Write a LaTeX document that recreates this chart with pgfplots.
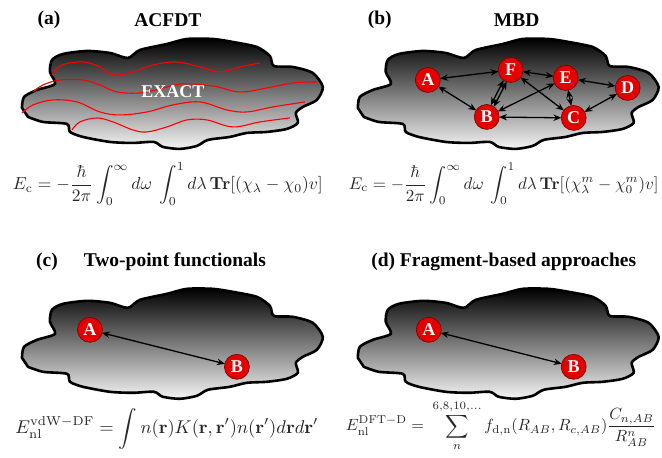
\documentclass[border=0pt]{standalone}
\usepackage[no-math]{fontspec}
\setmainfont{Liberation Serif}
\usepackage{graphicx}
\usepackage{pgfplots}
\pgfplotsset{compat=1.18}
\usepackage{pgfplotstable}
\usetikzlibrary{arrows.meta}

\pgfplotstableread{
x y
22 108
24 97
37 90
55 84
50 72
52 60
63 54
87 51
110 53
128 58
140 50
167 44
187 39
213 39
233 42
257 47
270 56
274 66
293 67
313 73
323 87
317 100
303 107
296 113
298 123
287 129
267 132
247 133
230 137
208 140
197 146
180 149
163 147
154 142
133 143
110 142
83 137
70 132
67 124
43 122
28 117
}\cloud

\pgfplotstableread{
x y lab
428 80 A
511 70 F
566 78 E
628 88 D
487 117 B
574 118 C
}\nodesB

\pgfplotstableread{
x y lab
90 330 A
237 367 B
429 330 A
574 367 B
}\nodesCD

\begin{document}
\begin{tikzpicture}
\begin{axis}[scale only axis, width=662pt, height=458pt,
  xmin=0, xmax=662, ymin=0, ymax=458, y dir=reverse,
  hide axis, clip=false,
  cloudsty/.style={draw=black, line width=2.6pt, top color=black, bottom color=white!96!black, smooth, tension=0.45},
  redl/.style={red, line width=1.1pt, smooth, tension=0.6},
  arr/.style={{Stealth[length=8pt,width=6.5pt]}-{Stealth[length=8pt,width=6.5pt]}, line width=1.3pt, black, shorten <=12.3pt, shorten >=12.3pt},
  circ/.style={only marks, mark=*, mark size=12.5pt, mark options={fill=red!90!black, draw=red!45!black, line width=0.6pt},
     nodes near coords, point meta=explicit symbolic,
     every node near coord/.style={anchor=center, text=white, font=\bfseries\fontsize{18}{18}\selectfont}},
]
\addplot[draw=none] coordinates {(0,0) (662,458)};

% clouds
\addplot[cloudsty] table[x expr=\thisrow{x}, y expr=\thisrow{y}] {\cloud} -- cycle;
\addplot[cloudsty] table[x expr=\thisrow{x}+336, y expr=\thisrow{y}] {\cloud} -- cycle;
\addplot[cloudsty] table[x expr=\thisrow{x}, y expr=\thisrow{y}+250] {\cloud} -- cycle;
\addplot[cloudsty] table[x expr=\thisrow{x}+336, y expr=\thisrow{y}+250] {\cloud} -- cycle;

% red lines (a)
\addplot[redl] coordinates {(52,75) (62,65) (83,62) (100,67) (113,75) (133,72) (153,65) (177,62) (200,67) (220,72) (240,67) (260,63)};
\addplot[redl] coordinates {(33,92) (43,85) (60,80) (83,80) (100,85) (117,92) (140,93) (160,89) (182,84) (213,86) (240,92) (267,88) (293,83) (317,82)};
\addplot[redl] coordinates {(22,113) (33,105) (53,100) (77,102) (100,112) (120,115) (147,112) (173,105) (200,102) (227,110) (247,112) (273,107) (305,102)};
\addplot[redl] coordinates {(72,130) (80,122) (97,118) (113,122) (133,130) (147,132) (167,127) (187,120) (207,120) (233,127) (260,122) (290,118)};

% arrows (b)
\addplot[arr] coordinates {(428,80) (511,70)};
\addplot[arr] coordinates {(428,80) (487,117)};
\addplot[arr] coordinates {(512.5,70.8) (488.5,117.8)};
\addplot[arr] coordinates {(509.5,69.2) (485.5,116.2)};
\addplot[arr] coordinates {(511,70) (566,78)};
\addplot[arr] coordinates {(566,78) (628,88)};
\addplot[arr] coordinates {(511,70) (574,118)};
\addplot[arr] coordinates {(566,78) (487,117)};
\addplot[arr] coordinates {(487,117) (574,118)};
\addplot[arr] coordinates {(566,78) (574,118)};
\addplot[arr] coordinates {(574,118) (628,88)};
% arrows (c),(d)
\addplot[arr] coordinates {(90,330) (237,367)};
\addplot[arr] coordinates {(429,330) (574,367)};

% circles
\addplot[circ] table[meta=lab] {\nodesB};
\addplot[circ] table[meta=lab] {\nodesCD};

% texts
\node[text=white, font=\bfseries\fontsize{18}{18}\selectfont] at (axis cs:173,92) {EXACT};
\node[font=\bfseries\fontsize{19.5}{20}\selectfont] at (axis cs:49,20) {(a)};
\node[font=\bfseries\fontsize{19.5}{20}\selectfont] at (axis cs:168,20) {ACFDT};
\node[font=\bfseries\fontsize{19.5}{20}\selectfont] at (axis cs:380,20) {(b)};
\node[font=\bfseries\fontsize{19.5}{20}\selectfont] at (axis cs:517,20) {MBD};
\node[font=\bfseries\fontsize{19.5}{20}\selectfont] at (axis cs:47,262) {(c)};
\node[font=\bfseries\fontsize{19.5}{20}\selectfont] at (axis cs:175,262) {Two-point functionals};
\node[font=\bfseries\fontsize{19.5}{20}\selectfont] at (axis cs:504,262) {(d) Fragment-based approaches};

\node[text=black!85] at (axis cs:168,184) {\resizebox{310pt}{!}{$\displaystyle E_{\mathrm{c}} = -\frac{\hbar}{2\pi}\int_0^\infty d\omega\ \int_0^1 d\lambda\,\mathbf{Tr}[(\chi_\lambda-\chi_0)v]$}};
\node[text=black!85] at (axis cs:504,184) {\resizebox{310pt}{!}{$\displaystyle E_{\mathrm{c}} = -\frac{\hbar}{2\pi}\int_0^\infty d\omega\ \int_0^1 d\lambda\,\mathbf{Tr}[(\chi^m_\lambda-\chi^m_0)v]$}};
\node[text=black!85] at (axis cs:167,429) {\resizebox{303pt}{!}{$\displaystyle E_{\mathrm{nl}}^{\mathrm{vdW-DF}} = \int n(\mathbf{r})K(\mathbf{r},\mathbf{r}')n(\mathbf{r}')d\mathbf{r}d\mathbf{r}'$}};
\node[text=black!85] at (axis cs:501,426) {\resizebox{310pt}{!}{$\displaystyle E_{\mathrm{nl}}^{\mathrm{DFT-D}} = \ \sum_n^{6,8,10,\ldots} f_{\mathrm{d,n}}(R_{AB},R_{c,AB})\frac{C_{n,AB}}{R_{AB}^n}$}};
\end{axis}
\end{tikzpicture}
\end{document}
